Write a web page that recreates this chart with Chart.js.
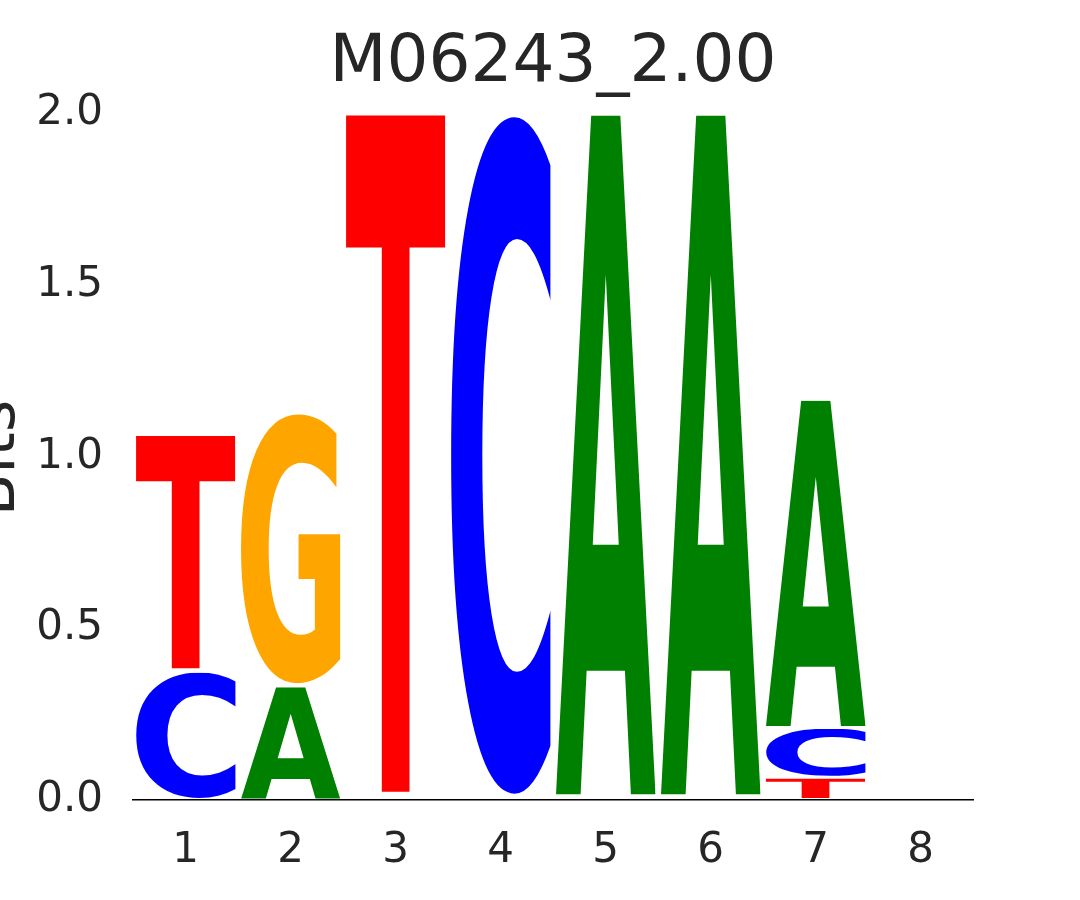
<!DOCTYPE html>
<html>
<head>
<meta charset="utf-8">
<script src="https://cdn.jsdelivr.net/npm/chart.js@4"></script>
<style>
  html, body { margin: 0; padding: 0; background: #fff; }
  #wrap { width: 1080px; height: 900px; }
</style>
</head>
<body>
<div id="wrap"><canvas id="logo" width="1080" height="900"></canvas></div>
<script>
// Sequence logo data (bits per letter at each position)
const positions = ['1', '2', '3', '4', '5', '6', '7', '8'];
const letters = ['A', 'C', 'G', 'T'];
const bitsA = [0.0, 0.335, 0.002, 0.004, 1.988, 1.988, 0.957, 0.003];
const bitsC = [0.375, 0.0, 0.002, 1.988, 0.004, 0.004, 0.145, 0.001];
const bitsG = [0.0, 0.795, 0.002, 0.004, 0.004, 0.004, 0.0, 0.001];
const bitsT = [0.69, 0.0, 1.994, 0.004, 0.004, 0.004, 0.066, 0.001];
const yTicks = [0, 0.5, 1.0, 1.5, 2.0];

const letterColors = { A: '#008000', C: '#0000ff', G: '#ffa500', T: '#ff0000' };
const bitsByLetter = { A: bitsA, C: bitsC, G: bitsG, T: bitsT };

// stack letters per position, smallest at the bottom
const ranges = { A: [], C: [], G: [], T: [] };
positions.forEach((p, i) => {
    const order = letters.slice().sort((a, b) => bitsByLetter[a][i] - bitsByLetter[b][i]);
    let base = 0;
    order.forEach(l => {
        const v = bitsByLetter[l][i];
        ranges[l][i] = v > 0 ? [base, base + v] : null;
        base += v;
    });
});

// draws each letter glyph stretched into its bar rectangle
const glyphPlugin = {
    id: 'glyphs',
    afterDatasetsDraw(chart) {
        const ctx = chart.ctx;
        chart.data.datasets.forEach((ds, di) => {
            const meta = chart.getDatasetMeta(di);
            meta.data.forEach((bar, i) => {
                if (!ds.data[i]) return;
                const p = bar.getProps(['x', 'y', 'base', 'width'], true);
                const left = p.x - p.width / 2;
                let top = Math.min(p.y, p.base);
                let h = Math.abs(p.base - p.y);
                if (h < 3) return; // too thin to see
                if (h > 12) { top += 1.5; h -= 3; }
                ctx.save();
                ctx.font = 'bold 200px "DejaVu Sans"';
                ctx.textAlign = 'left';
                ctx.textBaseline = 'alphabetic';
                const m = ctx.measureText(ds.label);
                const inkW = m.actualBoundingBoxLeft + m.actualBoundingBoxRight;
                const inkH = m.actualBoundingBoxAscent + m.actualBoundingBoxDescent;
                ctx.beginPath();
                ctx.rect(left, top, p.width, h);
                ctx.clip();
                ctx.translate(left, top);
                ctx.scale(p.width / inkW, h / inkH);
                ctx.fillStyle = letterColors[ds.label];
                ctx.fillText(ds.label, m.actualBoundingBoxLeft, m.actualBoundingBoxAscent);
                ctx.restore();
            });
        });
    }
};

// y label that sits partly outside the canvas, as in the source figure
const yLabelPlugin = {
    id: 'ylabel',
    afterDraw(chart) {
        const ctx = chart.ctx;
        ctx.save();
        ctx.translate(14, 458);
        ctx.rotate(-Math.PI / 2);
        ctx.font = '62px "DejaVu Sans"';
        ctx.fillStyle = '#262626';
        ctx.textAlign = 'center';
        ctx.textBaseline = 'alphabetic';
        ctx.fillText('Bits', 0, 0);
        ctx.restore();
    }
};

const ctxLogo = document.getElementById('logo').getContext('2d');
const logoChart = new Chart(ctxLogo, {
    type: 'bar',
    data: {
        labels: positions,
        datasets: letters.map(l => ({
            label: l,
            data: ranges[l],
            backgroundColor: 'rgba(0,0,0,0)',
            borderWidth: 0,
            categoryPercentage: 1,
            barPercentage: 0.955,
            grouped: false
        }))
    },
    options: {
        responsive: false,
        animation: false,
        layout: { padding: { left: 0, right: 107, top: 0, bottom: 0 } },
        plugins: {
            legend: { display: false },
            tooltip: { enabled: false },
            title: {
                display: true,
                text: 'M06243_2.00',
                fullSize: false,
                color: '#262626',
                font: { family: 'DejaVu Sans', size: 66, weight: 'normal', lineHeight: 1.2 },
                padding: { top: 24, bottom: 10 }
            }
        },
        scales: {
            x: {
                grid: { display: false, drawTicks: false },
                border: { display: true, color: '#000000', width: 1.5 },
                ticks: {
                    color: '#262626',
                    font: { family: 'DejaVu Sans', size: 42 },
                    padding: 26,
                    maxRotation: 0
                },
                afterFit(scale) { scale.height = 100; }
            },
            y: {
                min: 0,
                max: 2,
                grid: { display: false, drawTicks: false },
                border: { display: false },
                afterBuildTicks(scale) { scale.ticks = yTicks.map(v => ({ value: v })); },
                ticks: {
                    color: '#262626',
                    font: { family: 'DejaVu Sans', size: 42 },
                    padding: 30,
                    callback: v => Number(v).toFixed(1)
                },
                afterFit(scale) { scale.width = 133; }
            }
        }
    },
    plugins: [glyphPlugin, yLabelPlugin]
});
</script>
</body>
</html>
